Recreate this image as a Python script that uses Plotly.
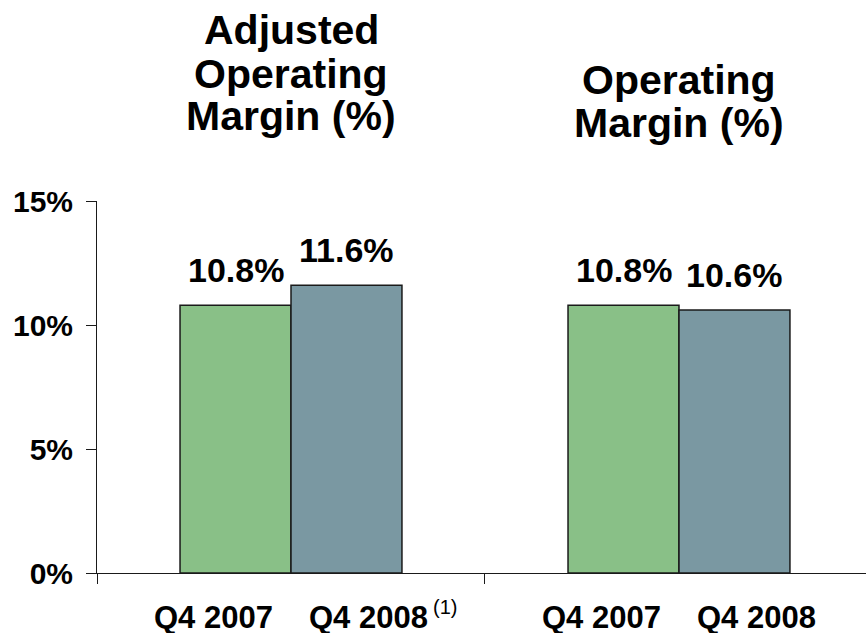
import plotly.graph_objects as go

title_left = ["Adjusted", "Operating", "Margin (%)"]
title_right = ["Operating", "Margin (%)"]
periods = ["Q4 2007", "Q4 2008"]
values_2007 = [10.8, 10.8]
values_2008 = [11.6, 10.6]
y_ticks = [0, 5, 10, 15]
y_tick_labels = ["0%", "5%", "10%", "15%"]
label_texts_2007 = ["10.8%", "10.8%"]
label_texts_2008 = ["11.6%", "10.6%"]
footnote = "(1)"

GREEN = "#89C087"
GRAY = "#7A98A2"
FONT = "Liberation Sans, Arial, sans-serif"
NARROW = "Liberation Sans Narrow, Arial Narrow, Liberation Sans, sans-serif"

xpos = [0, 1]
fig = go.Figure()
fig.add_trace(go.Bar(x=xpos, y=values_2007, name=periods[0], marker=dict(color=GREEN, line=dict(color="#1a1a1a", width=1.5))))
fig.add_trace(go.Bar(x=xpos, y=values_2008, name=periods[1], marker=dict(color=GRAY, line=dict(color="#1a1a1a", width=1.5))))

ann = []
half = 0.143
for g, v7, v8, t7, t8 in zip(xpos, values_2007, values_2008, label_texts_2007, label_texts_2008):
    ann.append(dict(x=g - half, y=v7, xref="x", yref="y", text=f"<b>{t7}</b>", showarrow=False,
                    yanchor="bottom", yshift=14, font=dict(family=FONT, size=34, color="black")))
    ann.append(dict(x=g + half, y=v8, xref="x", yref="y", text=f"<b>{t8}</b>", showarrow=False,
                    yanchor="bottom", yshift=14, font=dict(family=FONT, size=34, color="black")))
    ann.append(dict(x=g - 0.2, y=0, xref="x", yref="paper", text=f"<b>{periods[0]}</b>", showarrow=False,
                    yanchor="top", yshift=-25, font=dict(family=NARROW, size=31, color="black")))
    ann.append(dict(x=g + 0.2, y=0, xref="x", yref="paper", text=f"<b>{periods[1]}</b>", showarrow=False,
                    yanchor="top", yshift=-25, font=dict(family=NARROW, size=31, color="black")))

# footnote marker
ann.append(dict(x=0.397, y=0, xref="x", yref="paper", text=footnote, showarrow=False,
                yanchor="top", yshift=-21, font=dict(family=NARROW, size=20, color="black")))

# group titles, one annotation per line
for line, sh in zip(title_left, [146, 102, 60]):
    ann.append(dict(x=0, y=1, xref="x", yref="paper", text=f"<b>{line}</b>", showarrow=False,
                    yanchor="bottom", yshift=sh, font=dict(family=FONT, size=41, color="black")))
for line, sh in zip(title_right, [96, 53]):
    ann.append(dict(x=1, y=1, xref="x", yref="paper", text=f"<b>{line}</b>", showarrow=False,
                    yanchor="bottom", yshift=sh, font=dict(family=FONT, size=41, color="black")))

fig.update_layout(
    width=866, height=633,
    margin=dict(l=97, r=0, t=201, b=60),
    paper_bgcolor="white", plot_bgcolor="white",
    barmode="group", bargap=0.428, bargroupgap=0,
    showlegend=False,
    annotations=ann,
    xaxis=dict(range=[-0.5, 1.482], tickvals=[-0.5, 0.5, 1.5], ticks="outside", ticklen=10,
               tickcolor="#1a1a1a", showticklabels=False, showline=True, linecolor="#1a1a1a",
               linewidth=1, showgrid=False, zeroline=False, fixedrange=True, automargin=False),
    yaxis=dict(range=[0, 15], tickvals=y_ticks, ticktext=[f"<b>{t}</b>" for t in y_tick_labels],
               ticks="outside", ticklen=10, tickcolor="#1a1a1a", showline=True, linecolor="#1a1a1a",
               linewidth=1, showgrid=False, zeroline=False, ticklabelstandoff=7, automargin=False,
               tickfont=dict(family=FONT, size=30, color="black"), fixedrange=True),
)

fig.write_html("out.html", config={"displayModeBar": False},
               post_script="document.body.style.margin='0';document.body.style.padding='0';")
